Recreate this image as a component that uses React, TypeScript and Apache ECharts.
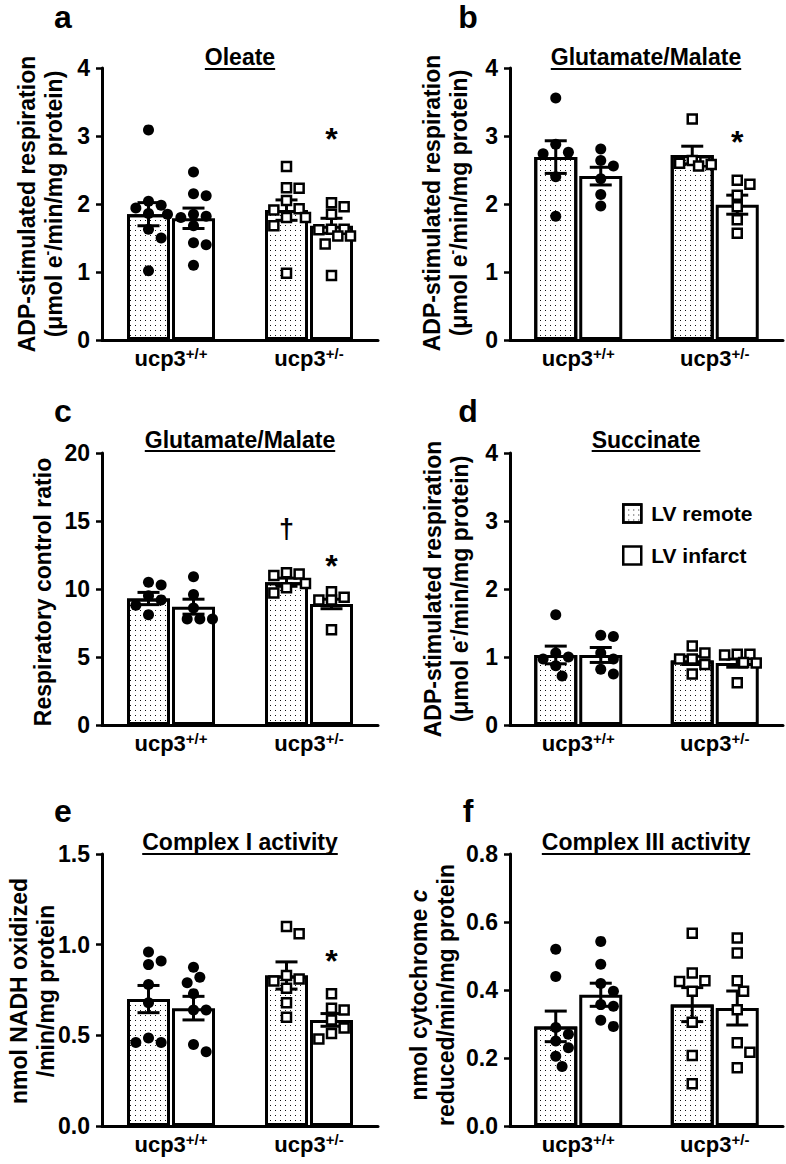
import { useEffect, useRef } from 'react';
import * as echarts from 'echarts';

const FONT = 'Arial, "Liberation Sans", Helvetica, sans-serif';

// ---------------- data ----------------
const categories = ['ucp3+/+', 'ucp3+/-'];
const seriesNames = ['LV remote', 'LV infarct'];

// a — Oleate
const aTicks = ['0', '1', '2', '3', '4'];
const aRemoteMean = [1.85, 1.91];
const aInfarctMean = [1.79, 1.68];
const aRemoteSem = [0.17, 0.15];
const aInfarctSem = [0.15, 0.11];
const aWtRemote = [3.09, 2.04, 1.98, 1.94, 1.86, 1.85, 1.63, 1.5, 1.02];
const aWtInfarct = [2.47, 2.15, 2.12, 1.85, 1.82, 1.8, 1.68, 1.43, 1.4, 1.1];
const aHetRemote = [2.55, 2.24, 2.23, 2.05, 1.93, 1.91, 1.8, 1.8, 1.68, 0.98];
const aHetInfarct = [2.02, 1.96, 1.85, 1.63, 1.63, 1.62, 1.53, 1.53, 1.41, 0.95];
const aMarks = [{ cat: 1, side: 1, y: 3.07, text: '*' }];

// b — Glutamate/Malate
const bTicks = ['0', '1', '2', '3', '4'];
const bRemoteMean = [2.69, 2.72];
const bInfarctMean = [2.41, 1.99];
const bRemoteSem = [0.24, 0.13];
const bInfarctSem = [0.13, 0.14];
const bWtRemote = [3.56, 2.88, 2.76, 2.74, 2.4, 1.82];
const bWtInfarct = [2.81, 2.64, 2.56, 2.37, 2.14, 1.97];
const bHetRemote = [3.25, 2.64, 2.62, 2.6, 2.58, 2.56];
const bHetInfarct = [2.35, 2.29, 2.13, 1.96, 1.77, 1.57];
const bMarks = [{ cat: 1, side: 1, y: 3.02, text: '*' }];

// c — Glutamate/Malate RCR
const cTicks = ['0', '5', '10', '15', '20'];
const cRemoteMean = [9.3, 10.5];
const cInfarctMean = [8.7, 8.9];
const cRemoteSem = [0.45, 0.3];
const cInfarctSem = [0.55, 0.35];
const cWtRemote = [10.5, 10.3, 9.5, 9.2, 8.8, 8.1];
const cWtInfarct = [10.9, 9.6, 8.6, 7.8, 7.8, 7.8];
const cHetRemote = [11.2, 11.1, 11.0, 10.4, 10.1, 9.7];
const cHetInfarct = [9.8, 9.4, 9.2, 9.2, 7.0];
const cMarks = [
  { cat: 1, side: -1, y: 14.4, text: '†' },
  { cat: 1, side: 1, y: 12.2, text: '*' },
];

// d — Succinate
const dTicks = ['0', '1', '2', '3', '4'];
const dRemoteMean = [1.03, 0.95];
const dInfarctMean = [1.03, 0.91];
const dRemoteSem = [0.13, 0.06];
const dInfarctSem = [0.11, 0.06];
const dWtRemote = [1.62, 1.06, 1.0, 0.97, 0.87, 0.72];
const dWtInfarct = [1.32, 1.3, 1.06, 0.97, 0.82, 0.75];
const dHetRemote = [1.16, 1.06, 0.97, 0.97, 0.89, 0.75];
const dHetInfarct = [1.04, 1.04, 1.03, 0.92, 0.91, 0.62];
const dMarks: any[] = [];

// e — Complex I activity
const eTicks = ['0.0', '0.5', '1.0', '1.5'];
const eRemoteMean = [0.7, 0.83];
const eInfarctMean = [0.65, 0.585];
const eRemoteSem = [0.075, 0.075];
const eInfarctSem = [0.065, 0.035];
const eWtRemote = [0.96, 0.91, 0.89, 0.78, 0.68, 0.485, 0.46, 0.46];
const eWtInfarct = [0.876, 0.82, 0.79, 0.73, 0.64, 0.64, 0.45, 0.41];
const eHetRemote = [1.1, 1.06, 0.83, 0.81, 0.8, 0.76, 0.68, 0.6];
const eHetInfarct = [0.73, 0.65, 0.64, 0.585, 0.54, 0.51, 0.48];
const eMarks = [{ cat: 1, side: 1, y: 0.95, text: '*' }];

// f — Complex III activity
const fTicks = ['0.0', '0.2', '0.4', '0.6', '0.8'];
const fRemoteMean = [0.293, 0.357];
const fInfarctMean = [0.386, 0.347];
const fRemoteSem = [0.045, 0.05];
const fInfarctSem = [0.034, 0.05];
const fWtRemote = [0.52, 0.44, 0.29, 0.27, 0.25, 0.23, 0.205, 0.175];
const fWtInfarct = [0.543, 0.476, 0.419, 0.396, 0.357, 0.352, 0.311, 0.293];
const fHetRemote = [0.567, 0.45, 0.427, 0.425, 0.396, 0.305, 0.207, 0.124];
const fHetInfarct = [0.553, 0.509, 0.427, 0.396, 0.342, 0.245, 0.217, 0.171];
const fMarks: any[] = [];

const panelLetters = ['a', 'b', 'c', 'd', 'e', 'f'];
const panelTitles = ['Oleate', 'Glutamate/Malate', 'Glutamate/Malate', 'Succinate', 'Complex I activity', 'Complex III activity'];
const ADP_TITLE = '{t|ADP-stimulated respiration}\n{t|(μmol e}{s|-}{t|/min/mg protein)}';
// null => composed title (panel f, with italic "c")
const yTitles: (string | null)[] = [
  ADP_TITLE,
  ADP_TITLE,
  '{t|Respiratory control ratio}',
  ADP_TITLE,
  '{t|nmol NADH oxidized}\n{t|/min/mg protein}',
  null,
];
const fTitleLine1 = ['nmol cytochrome ', 'c'];
const fTitleLine2 = 'reduced/min/mg protein';

const panels = [
  { ticks: aTicks, rm: aRemoteMean, im: aInfarctMean, rs: aRemoteSem, is: aInfarctSem, wr: aWtRemote, wi: aWtInfarct, hr: aHetRemote, hi: aHetInfarct, marks: aMarks },
  { ticks: bTicks, rm: bRemoteMean, im: bInfarctMean, rs: bRemoteSem, is: bInfarctSem, wr: bWtRemote, wi: bWtInfarct, hr: bHetRemote, hi: bHetInfarct, marks: bMarks },
  { ticks: cTicks, rm: cRemoteMean, im: cInfarctMean, rs: cRemoteSem, is: cInfarctSem, wr: cWtRemote, wi: cWtInfarct, hr: cHetRemote, hi: cHetInfarct, marks: cMarks },
  { ticks: dTicks, rm: dRemoteMean, im: dInfarctMean, rs: dRemoteSem, is: dInfarctSem, wr: dWtRemote, wi: dWtInfarct, hr: dHetRemote, hi: dHetInfarct, marks: dMarks },
  { ticks: eTicks, rm: eRemoteMean, im: eInfarctMean, rs: eRemoteSem, is: eInfarctSem, wr: eWtRemote, wi: eWtInfarct, hr: eHetRemote, hi: eHetInfarct, marks: eMarks },
  { ticks: fTicks, rm: fRemoteMean, im: fInfarctMean, rs: fRemoteSem, is: fInfarctSem, wr: fWtRemote, wi: fWtInfarct, hr: fHetRemote, hi: fHetInfarct, marks: fMarks },
];

// ---------------- layout ----------------
const COL_X = [102, 510];
const COL_W = [276, 273];
const ROW_Y = [68, 453, 854];
const GRID_H = 272;
const TITLE_CX = [240, 646];
const TITLE_CY = [57, 440, 842];
const UNDERLINE_Y = [69, 451, 854];
const LETTER_CX = [63, 468];
const LETTER_CY = [17, 411, 811];
const YNAME_POS = [[40, 204], [445, 203], [43, 592], [446, 589], [32, 991], [432, 995]];
const YNAME_LH = 27;
const BAR_W = 43;
const GAP_PX = 2;
const OFFSET = (BAR_W + GAP_PX) / 2;
const DOT_D = 11;

const DOTS = {
  symbol: 'rect',
  symbolSize: 1,
  color: '#111',
  dashArrayX: [1, 4],
  dashArrayY: [1, 4],
  rotation: 0,
};

function textWidth(text: string, font: string) {
  const ctx = document.createElement('canvas').getContext('2d');
  if (!ctx) return text.length * 12;
  ctx.font = font;
  return ctx.measureText(text).width;
}

function beeswarm(values: number[], pxPerUnit: number, diam: number): number[] {
  const order = values.map((_, i) => i).sort((i, j) => values[j] - values[i]);
  const placed: { x: number; y: number }[] = [];
  const dx = new Array(values.length).fill(0);
  const step = diam * 0.55;
  for (const i of order) {
    const y = values[i] * pxPerUnit;
    let best = 0;
    let bestScore = -Infinity;
    for (let k = 0; k < 7; k++) {
      const c = k === 0 ? 0 : (k % 2 === 1 ? 1 : -1) * Math.ceil(k / 2) * step;
      let minD = Infinity;
      for (const p of placed) minD = Math.min(minD, Math.hypot(p.x - c, p.y - y));
      if (minD >= diam) { best = c; break; }
      if (minD > bestScore) { bestScore = minD; best = c; }
    }
    dx[i] = best;
    placed.push({ x: best, y });
  }
  return dx;
}

function buildOption() {
  const grid: any[] = [];
  const xAxis: any[] = [];
  const yAxis: any[] = [];
  const series: any[] = [];
  const graphic: any[] = [];
  const textBase = { fontSize: 23, fontWeight: 'bold', fontFamily: FONT, fill: '#000' };

  panels.forEach((p, i) => {
    const col = i % 2;
    const row = Math.floor(i / 2);
    const min = parseFloat(p.ticks[0]);
    const max = parseFloat(p.ticks[p.ticks.length - 1]);
    const interval = parseFloat(p.ticks[1]) - min;
    grid.push({ left: COL_X[col], top: ROW_Y[row], width: COL_W[col], height: GRID_H, containLabel: false, outerBoundsMode: 'none' });
    xAxis.push({
      type: 'category', gridIndex: i, data: categories,
      axisLine: { show: true, lineStyle: { color: '#000', width: 3 } },
      axisTick: { show: false },
      splitLine: { show: false },
      axisLabel: {
        margin: 6, color: '#000', interval: 0,
        formatter: (v: string) => {
          const m = v.match(/^(ucp3)(.*)$/);
          return m ? `{b|${m[1]}}{s|${m[2]}}` : v;
        },
        rich: {
          b: { fontSize: 22, fontWeight: 'bold', fontFamily: FONT, color: '#000', lineHeight: 24 },
          s: { fontSize: 15, fontWeight: 'bold', fontFamily: FONT, color: '#000', lineHeight: 14, verticalAlign: 'top' },
        },
      },
    });
    yAxis.push({
      type: 'value', gridIndex: i, min, max, interval,
      axisLine: { show: true, lineStyle: { color: '#000', width: 3 } },
      axisTick: { show: true, length: 6, lineStyle: { color: '#000', width: 2.5 } },
      splitLine: { show: false },
      axisLabel: {
        margin: 12, color: '#000', fontSize: 23, fontWeight: 'bold', fontFamily: FONT,
        formatter: (v: number) => p.ticks[Math.round((v - min) / interval)] ?? '',
      },
    });

    series.push({
      type: 'bar', name: seriesNames[0], xAxisIndex: i, yAxisIndex: i, data: p.rm,
      barWidth: BAR_W, barGap: `${(GAP_PX / BAR_W) * 100}%`, z: 2, silent: true,
      itemStyle: { color: '#fff', borderColor: '#000', borderWidth: 3, opacity: 1, decal: DOTS },
    });
    series.push({
      type: 'bar', name: seriesNames[1], xAxisIndex: i, yAxisIndex: i, data: p.im,
      barWidth: BAR_W, barGap: `${(GAP_PX / BAR_W) * 100}%`, z: 2, silent: true,
      itemStyle: { color: '#fff', borderColor: '#000', borderWidth: 3, opacity: 1 },
    });

    const errData: number[][] = [];
    [0, 1].forEach((c) => {
      errData.push([c, p.rm[c], p.rs[c], -1]);
      errData.push([c, p.im[c], p.is[c], 1]);
    });
    series.push({
      type: 'custom', xAxisIndex: i, yAxisIndex: i, z: 3, silent: true,
      data: errData, encode: { x: 0, y: 1 },
      renderItem: (_params: any, api: any) => {
        const c = api.value(0);
        const mean = api.value(1);
        const sem = api.value(2);
        const x = api.coord([c, mean])[0] + api.value(3) * OFFSET;
        const yT = api.coord([c, mean + sem])[1];
        const yB = api.coord([c, mean - sem])[1];
        const st = { stroke: '#000', lineWidth: 3 };
        return {
          type: 'group',
          children: [
            { type: 'line', shape: { x1: x, y1: yT, x2: x, y2: yB }, style: st },
            { type: 'line', shape: { x1: x - 11, y1: yT, x2: x + 11, y2: yT }, style: st },
            { type: 'line', shape: { x1: x - 11, y1: yB, x2: x + 11, y2: yB }, style: st },
          ],
        };
      },
    });

    const pxPerUnit = GRID_H / (max - min);
    const groups = [
      { vals: p.wr, cat: 0, side: -1, sym: 'circle' },
      { vals: p.wi, cat: 0, side: 1, sym: 'circle' },
      { vals: p.hr, cat: 1, side: -1, sym: 'rect' },
      { vals: p.hi, cat: 1, side: 1, sym: 'rect' },
    ];
    groups.forEach((g) => {
      const dx = beeswarm(g.vals, pxPerUnit, DOT_D + 0.5);
      series.push({
        type: 'scatter', xAxisIndex: i, yAxisIndex: i, z: 4, silent: true,
        symbol: g.sym, symbolSize: g.sym === 'circle' ? DOT_D : 9,
        itemStyle: g.sym === 'circle'
          ? { color: '#000', opacity: 1 }
          : { color: '#fff', borderColor: '#000', borderWidth: 2.5, opacity: 1 },
        data: g.vals.map((v, k) => ({ value: [g.cat, v], symbolOffset: [g.side * OFFSET + dx[k], 0] })),
      });
    });

    if (p.marks.length) {
      series.push({
        type: 'custom', xAxisIndex: i, yAxisIndex: i, z: 5, silent: true,
        data: p.marks.map((m: any) => [m.cat, m.y, m.side]), encode: { x: 0, y: 1 },
        renderItem: (params: any, api: any) => {
          const m = p.marks[params.dataIndex];
          const pt = api.coord([api.value(0), api.value(1)]);
          const isStar = m.text === '*';
          const fs = isStar ? 32 : 27;
          const shift = isStar ? 0.23 * fs : 0;
          return {
            type: 'text', x: pt[0] + api.value(2) * OFFSET, y: pt[1] + shift,
            style: { text: m.text, fontSize: fs, fontWeight: 'bold', fontFamily: FONT, fill: '#000', align: 'center', verticalAlign: 'middle' },
          };
        },
      });
    }

    // panel letter
    graphic.push({
      type: 'text', x: LETTER_CX[col], y: LETTER_CY[row], silent: true,
      style: { text: panelLetters[i], fontSize: 32, fontWeight: 'bold', fontFamily: FONT, fill: '#000', align: 'center', verticalAlign: 'middle' },
    });
    // title + underline
    const tw = textWidth(panelTitles[i], `bold 23px ${FONT}`);
    graphic.push({
      type: 'text', x: TITLE_CX[col], y: TITLE_CY[row], silent: true,
      style: { ...textBase, text: panelTitles[i], align: 'center', verticalAlign: 'middle' },
    });
    graphic.push({
      type: 'line', silent: true,
      shape: { x1: TITLE_CX[col] - tw / 2, y1: UNDERLINE_Y[row], x2: TITLE_CX[col] + tw / 2, y2: UNDERLINE_Y[row] },
      style: { stroke: '#000', lineWidth: 2 },
    });
    // y axis title
    const [nx, ny] = YNAME_POS[i];
    const yt = yTitles[i];
    if (yt) {
      graphic.push({
        type: 'text', x: nx, y: ny, rotation: Math.PI / 2, silent: true,
        style: {
          ...textBase, text: yt, align: 'center', verticalAlign: 'middle',
          rich: {
            t: { ...textBase, lineHeight: YNAME_LH },
            s: { fontSize: 14, fontWeight: 'bold', fontFamily: FONT, fill: '#000', lineHeight: 14, verticalAlign: 'top' },
          },
        },
      });
    } else {
      // two-line title, first line ends with italic "c"
      const x1 = nx - YNAME_LH / 2;
      const x2 = nx + YNAME_LH / 2;
      const w1 = textWidth(fTitleLine1[0], `bold 23px ${FONT}`);
      const w2 = textWidth(fTitleLine1[1], `italic bold 23px ${FONT}`);
      const start = ny + (w1 + w2) / 2;
      graphic.push({
        type: 'text', x: x1, y: start, rotation: Math.PI / 2, silent: true,
        style: { ...textBase, text: fTitleLine1[0], align: 'left', verticalAlign: 'middle' },
      });
      graphic.push({
        type: 'text', x: x1, y: start - w1, rotation: Math.PI / 2, silent: true,
        style: { ...textBase, fontStyle: 'italic', text: fTitleLine1[1], align: 'left', verticalAlign: 'middle' },
      });
      graphic.push({
        type: 'text', x: x2, y: ny, rotation: Math.PI / 2, silent: true,
        style: { ...textBase, text: fTitleLine2, align: 'center', verticalAlign: 'middle' },
      });
    }
  });

  return {
    animation: false,
    backgroundColor: '#fff',
    grid,
    xAxis,
    yAxis,
    series,
    graphic,
    tooltip: { show: false },
    legend: {
      data: seriesNames, orient: 'vertical', left: 617, top: 498,
      itemWidth: 18, itemHeight: 18, itemGap: 21, icon: 'rect', selectedMode: false,
      itemStyle: { borderColor: '#000', borderWidth: 2.5 },
      textStyle: { fontSize: 21, fontWeight: 'bold', color: '#000', fontFamily: FONT, padding: [0, 0, 0, 5] },
    },
  };
}

export default function App() {
  const ref = useRef<HTMLDivElement>(null);
  useEffect(() => {
    const el = ref.current;
    if (!el) return;
    const chart = echarts.init(el, null, { renderer: 'svg' });
    chart.setOption(buildOption() as any);
    return () => chart.dispose();
  }, []);
  return (
    <div
      ref={ref}
      style={{ position: 'absolute', left: 0, top: 0, width: 786, height: 1164, background: '#fff' }}
    />
  );
}
